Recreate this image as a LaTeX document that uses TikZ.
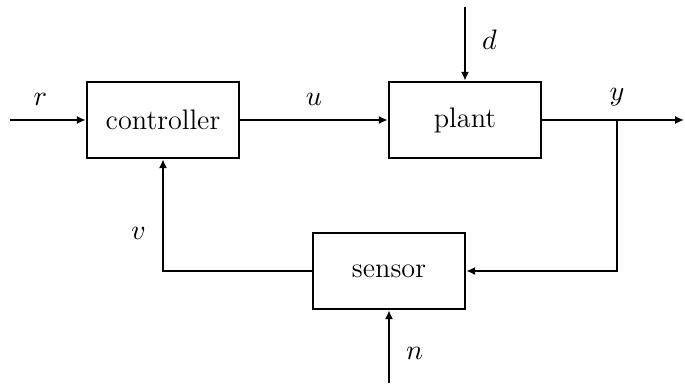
\documentclass[tikz,border=0pt]{standalone}
\usetikzlibrary{arrows,arrows.meta,positioning}
\tikzset{
    block/.style = {draw, rectangle,
        minimum height=1.04cm,
        minimum width=2.08cm},
    input/.style = {coordinate},
    arrow/.style = {draw, -{Latex[length=1.2mm,width=1.1mm]}}
}

\begin{document}
\begin{tikzpicture}[x=0.01368cm,y=-0.01368cm,line width=1pt,font=\fontsize{11}{13}\selectfont]
    \useasboundingbox (0,0) rectangle (685,385);
    \node[block] (ctrl) at (163,120) {controller};
    \node[block] (plant) at (465,120) {plant};
    \node[block] (sensor) at (389,271) {sensor};
    \node[input] (ref) at (10,120) {};
    \node[input] (out) at (684,120) {};
    \node[input] (dist) at (465,7) {};
    \node[input] (noise) at (389,383) {};
    \node[input] (tap) at (617,120) {};
    \draw [arrow] (ref) -- node[anchor=south,pos=.4,yshift=.6mm]{$r$} (ctrl);
    \draw [arrow] (ctrl) -- node[anchor=south,yshift=.6mm]{$u$} (plant);
    \draw [arrow] (dist) -- node[anchor=west,pos=.45,xshift=1mm]{$d$} (plant);
    \draw [arrow] (plant) -- (out);
    \node[anchor=south,yshift=.6mm] at (tap) {$y$};
    \draw [arrow] (tap) |- (sensor);
    \draw [arrow] (sensor) -| node[anchor=east,pos=.67,xshift=-1mm]{$v$} (ctrl);
    \draw [arrow] (noise) -- node[anchor=west,pos=.4,xshift=1mm]{$n$} (sensor);
\end{tikzpicture}
\end{document}
